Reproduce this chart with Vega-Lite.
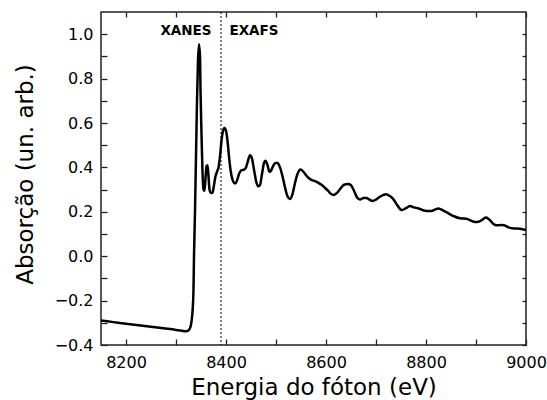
{
  "$schema": "https://vega.github.io/schema/vega-lite/v6.json",
  "width": 425,
  "height": 333,
  "autosize": {"type": "none"},
  "padding": {"left": 101, "top": 12, "right": 21, "bottom": 55},
  "background": "white",
  "config": {
    "view": {"stroke": "#222", "strokeWidth": 1.5},
    "axis": {"grid": false, "domain": false, "tickColor": "#222", "tickWidth": 1.3, "labelFont": "DejaVu Sans", "labelFontSize": 16, "labelColor": "black", "titleFont": "DejaVu Sans", "titleFontSize": 23, "titleFontWeight": "normal", "titleColor": "black"}
  },
  "datasets": {
    "spectrum": [
      {"E": 8150, "A": -0.290}, {"E": 8175, "A": -0.297}, {"E": 8200, "A": -0.304}, {"E": 8225, "A": -0.311},
      {"E": 8250, "A": -0.318}, {"E": 8275, "A": -0.325}, {"E": 8300, "A": -0.332}, {"E": 8312, "A": -0.336},
      {"E": 8318, "A": -0.338}, {"E": 8322, "A": -0.337}, {"E": 8326, "A": -0.332}, {"E": 8329, "A": -0.318},
      {"E": 8331, "A": -0.295}, {"E": 8333, "A": -0.25}, {"E": 8335, "A": -0.15}, {"E": 8336, "A": 0.0},
      {"E": 8338, "A": 0.2}, {"E": 8340, "A": 0.45}, {"E": 8342, "A": 0.7}, {"E": 8344, "A": 0.88},
      {"E": 8346, "A": 0.955}, {"E": 8348, "A": 0.9}, {"E": 8349, "A": 0.75}, {"E": 8351, "A": 0.55},
      {"E": 8353, "A": 0.38}, {"E": 8355, "A": 0.3}, {"E": 8357, "A": 0.295}, {"E": 8359, "A": 0.35},
      {"E": 8361, "A": 0.405}, {"E": 8363, "A": 0.41}, {"E": 8365, "A": 0.36}, {"E": 8367, "A": 0.3},
      {"E": 8370, "A": 0.285}, {"E": 8373, "A": 0.286}, {"E": 8376, "A": 0.32}, {"E": 8379, "A": 0.36},
      {"E": 8382, "A": 0.38}, {"E": 8385, "A": 0.4}, {"E": 8388, "A": 0.45}, {"E": 8391, "A": 0.52},
      {"E": 8394, "A": 0.565}, {"E": 8397, "A": 0.578}, {"E": 8400, "A": 0.565}, {"E": 8403, "A": 0.52},
      {"E": 8406, "A": 0.45}, {"E": 8409, "A": 0.39}, {"E": 8413, "A": 0.345}, {"E": 8418, "A": 0.328},
      {"E": 8422, "A": 0.34}, {"E": 8426, "A": 0.37}, {"E": 8430, "A": 0.386}, {"E": 8436, "A": 0.39},
      {"E": 8440, "A": 0.4}, {"E": 8444, "A": 0.43}, {"E": 8448, "A": 0.455}, {"E": 8452, "A": 0.44},
      {"E": 8456, "A": 0.39}, {"E": 8460, "A": 0.34}, {"E": 8464, "A": 0.315}, {"E": 8468, "A": 0.32},
      {"E": 8472, "A": 0.37}, {"E": 8476, "A": 0.42}, {"E": 8479, "A": 0.43}, {"E": 8483, "A": 0.41},
      {"E": 8487, "A": 0.38}, {"E": 8490, "A": 0.385}, {"E": 8494, "A": 0.405}, {"E": 8499, "A": 0.42},
      {"E": 8503, "A": 0.42}, {"E": 8508, "A": 0.4}, {"E": 8513, "A": 0.36}, {"E": 8518, "A": 0.31},
      {"E": 8523, "A": 0.27}, {"E": 8528, "A": 0.258}, {"E": 8533, "A": 0.28}, {"E": 8538, "A": 0.33},
      {"E": 8543, "A": 0.37}, {"E": 8549, "A": 0.39}, {"E": 8555, "A": 0.38}, {"E": 8562, "A": 0.36},
      {"E": 8570, "A": 0.345}, {"E": 8578, "A": 0.338}, {"E": 8585, "A": 0.33}, {"E": 8591, "A": 0.322},
      {"E": 8597, "A": 0.31}, {"E": 8604, "A": 0.295}, {"E": 8610, "A": 0.28}, {"E": 8616, "A": 0.276},
      {"E": 8622, "A": 0.285}, {"E": 8629, "A": 0.305}, {"E": 8636, "A": 0.322}, {"E": 8644, "A": 0.325},
      {"E": 8650, "A": 0.32}, {"E": 8656, "A": 0.295}, {"E": 8662, "A": 0.265}, {"E": 8668, "A": 0.255},
      {"E": 8675, "A": 0.262}, {"E": 8681, "A": 0.262}, {"E": 8687, "A": 0.255}, {"E": 8693, "A": 0.249},
      {"E": 8700, "A": 0.255}, {"E": 8708, "A": 0.268}, {"E": 8714, "A": 0.275}, {"E": 8720, "A": 0.279},
      {"E": 8727, "A": 0.272}, {"E": 8735, "A": 0.256}, {"E": 8742, "A": 0.232}, {"E": 8751, "A": 0.208},
      {"E": 8759, "A": 0.215}, {"E": 8768, "A": 0.226}, {"E": 8776, "A": 0.22}, {"E": 8785, "A": 0.215},
      {"E": 8793, "A": 0.208}, {"E": 8801, "A": 0.204}, {"E": 8811, "A": 0.204}, {"E": 8818, "A": 0.21},
      {"E": 8825, "A": 0.215}, {"E": 8835, "A": 0.205}, {"E": 8845, "A": 0.193}, {"E": 8856, "A": 0.18},
      {"E": 8868, "A": 0.171}, {"E": 8881, "A": 0.169}, {"E": 8890, "A": 0.16}, {"E": 8898, "A": 0.154},
      {"E": 8905, "A": 0.155}, {"E": 8913, "A": 0.165}, {"E": 8920, "A": 0.174}, {"E": 8928, "A": 0.162},
      {"E": 8935, "A": 0.145}, {"E": 8941, "A": 0.139}, {"E": 8950, "A": 0.14}, {"E": 8956, "A": 0.139},
      {"E": 8965, "A": 0.13}, {"E": 8975, "A": 0.125}, {"E": 8988, "A": 0.124}, {"E": 9000, "A": 0.118}
    ],
    "divider": [{"E": 8390}],
    "labels": [
      {"E": 8320, "A": 1.014, "text": "XANES"},
      {"E": 8456, "A": 1.014, "text": "EXAFS"}
    ]
  },
  "layer": [
    {
      "data": {"name": "spectrum"},
      "mark": {"type": "line", "color": "black", "strokeWidth": 2.5, "interpolate": "monotone", "strokeJoin": "round", "clip": true},
      "encoding": {
        "x": {
          "field": "E", "type": "quantitative",
          "scale": {"domain": [8150, 9000], "nice": false, "zero": false},
          "axis": {
            "orient": "bottom",
            "values": [8200, 8300, 8400, 8500, 8600, 8700, 8800, 8900, 9000],
            "labelExpr": "datum.value % 200 == 0 ? datum.label : ''",
            "format": "d",
            "tickSize": -6, "labelPadding": 15, "labelFlush": false,
            "title": "Energia do fóton (eV)",
            "titleX": 212.5, "titleY": 49, "titleBaseline": "alphabetic", "titleAlign": "center"
          }
        },
        "y": {
          "field": "A", "type": "quantitative",
          "scale": {"domain": [-0.4, 1.1], "nice": false, "zero": false},
          "axis": {
            "orient": "left",
            "values": [-0.4, -0.3, -0.2, -0.1, 0.0, 0.1, 0.2, 0.3, 0.4, 0.5, 0.6, 0.7, 0.8, 0.9, 1.0],
            "labelExpr": "round(datum.value * 10) % 2 == 0 ? format(datum.value, '.1f') : ''",
            "tickSize": -6, "labelPadding": 14, "labelFlush": false,
            "title": "Absorção (un. arb.)",
            "titleX": -69, "titleY": 162, "titleBaseline": "alphabetic", "titleAlign": "center", "titleAngle": 270
          }
        }
      }
    },
    {
      "data": {"name": "divider"},
      "mark": {"type": "rule", "color": "black", "strokeWidth": 1, "strokeDash": [2, 2]},
      "encoding": {
        "x": {"field": "E", "type": "quantitative", "axis": null}
      }
    },
    {
      "data": {"name": "labels"},
      "mark": {"type": "text", "font": "DejaVu Sans", "fontSize": 13.5, "fontWeight": "bold", "color": "black", "align": "center", "baseline": "middle"},
      "encoding": {
        "x": {
          "field": "E", "type": "quantitative",
          "axis": {"orient": "top", "values": [8200, 8300, 8400, 8500, 8600, 8700, 8800, 8900, 9000], "labels": false, "tickSize": -5, "title": null}
        },
        "y": {
          "field": "A", "type": "quantitative",
          "axis": {"orient": "right", "values": [-0.4, -0.3, -0.2, -0.1, 0.0, 0.1, 0.2, 0.3, 0.4, 0.5, 0.6, 0.7, 0.8, 0.9, 1.0], "labels": false, "tickSize": -4, "title": null}
        },
        "text": {"field": "text", "type": "nominal"}
      }
    }
  ],
  "resolve": {"axis": {"x": "independent", "y": "independent"}}
}
